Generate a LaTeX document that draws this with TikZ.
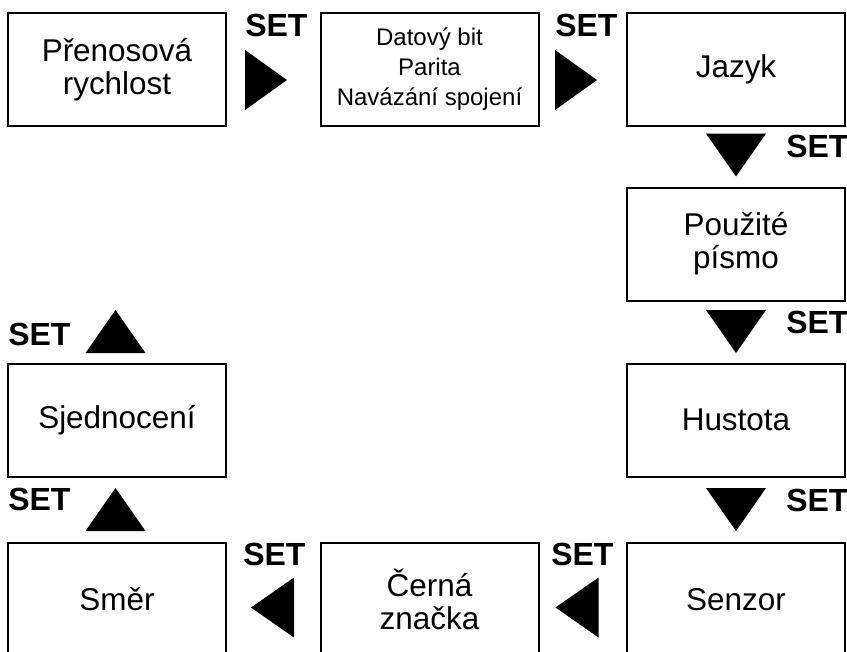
\documentclass[tikz,border=0pt]{standalone}
\usepackage{fontspec}
\setmainfont{Liberation Sans}
\tikzset{box/.style={draw=black, line width=1.5pt, minimum width=163.5pt, minimum height=84.75pt, inner sep=0pt, align=center, font=\fontsize{23.6}{24.75}\selectfont},
%label next to each triangle
setlabel/.style={anchor=base west, inner sep=0pt, font=\fontsize{24}{26}\selectfont\bfseries}}

\begin{document}
\begin{tikzpicture}[x=0.75pt, y=-0.75pt]

    \useasboundingbox (0,0) rectangle (847,651);

    \node[box] (0) at (117,69.5) {Přenosová\\rychlost};
    \node[box, font=\fontsize{18}{22.5}\selectfont] (1) at (429.5,69.5) {Datový bit\\Parita\\Navázání spojení};
    \node[box] (2) at (736,69.5) {Jazyk};
    \node[box] (3) at (736,244) {Použité\\písmo};
    \node[box] (4) at (736,420) {Hustota};
    \node[box] (5) at (736,599.5) {Senzor};
    \node[box] (6) at (429.5,599.5) {Černá\\značka};
    \node[box] (7) at (117,599.5) {Směr};
    \node[box] (8) at (117,420) {Sjednocení};

    \coordinate (r1) at (266,80);
    \coordinate (r2) at (576,80);
    \coordinate (d1) at (736,155);
    \coordinate (d2) at (736,331.5);
    \coordinate (d3) at (736,509.5);
    \coordinate (l1) at (577,607.5);
    \coordinate (l2) at (272.5,607.5);
    \coordinate (u1) at (115.5,509.5);
    \coordinate (u2) at (115.5,331.5);

    \foreach \i in {r1,r2}
    \fill (\i) ++(-21,-30) -- ++(42,30) -- ++(-42,30) -- cycle;

    \foreach \i in {d1,d2,d3}
    \fill (\i) ++(-30,-21.5) -- ++(60,0) -- ++(-30,43) -- cycle;

    \foreach \i in {l1,l2}
    \fill (\i) ++(21.5,-30) -- ++(0,60) -- ++(-43,-30) -- cycle;

    \foreach \i in {u1,u2}
    \fill (\i) ++(-30,21.5) -- ++(60,0) -- ++(-30,-43) -- cycle;

    \foreach \x/\y in {245/36.5,555/36.5,786/157,786/333,786/511,551/565,243/565,8/510,8/345}
    \node[setlabel] at (\x,\y) {SET};

  \end{tikzpicture}
\end{document}
